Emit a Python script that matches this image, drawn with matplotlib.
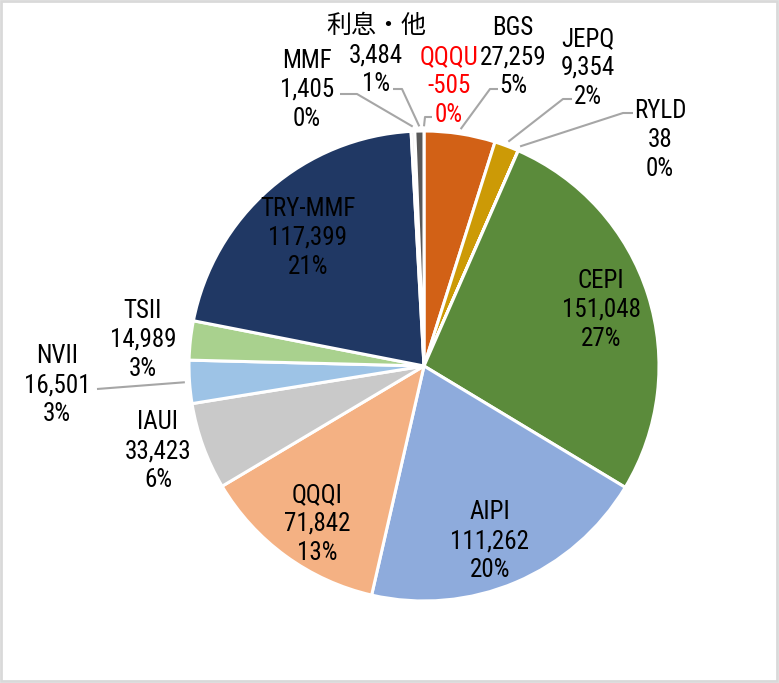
import matplotlib
matplotlib.use("Agg")
import matplotlib.pyplot as plt
from matplotlib.patches import Rectangle
import numpy as np

plt.rcParams['font.family'] = ['Roboto Condensed', 'Noto Sans CJK JP', 'DejaVu Sans']

# 銘柄別の評価額（時計回り、12時の位置から）
names = ['QQQU', 'BGS', 'JEPQ', 'RYLD', 'CEPI', 'AIPI', 'QQQI', 'IAUI',
         'NVII', 'TSII', 'TRY-MMF', 'MMF', '利息・他']
amounts = [-505, 27259, 9354, 38, 151048, 111262, 71842, 33423,
           16501, 14989, 117399, 1405, 3484]
pct_labels = ['0%', '5%', '2%', '0%', '27%', '20%', '13%', '6%',
              '3%', '3%', '21%', '0%', '1%']
colors = ['#E06666', '#D26116', '#CC9A06', '#7F7F7F', '#5B8B3B', '#8EABDC',
          '#F4B183', '#C9C9C9', '#9DC3E6', '#A9D18E', '#203864', '#E7E6E6',
          '#595959']

# ラベル位置（ピクセル座標、中央行）と引き出し線の折れ点
label_pos = {
    'QQQU': (449, 86), 'BGS': (513, 57), 'JEPQ': (588, 68), 'RYLD': (660, 140),
    'CEPI': (601, 310), 'AIPI': (490, 541), 'QQQI': (317, 524),
    'IAUI': (158, 451), 'NVII': (57, 385), 'TSII': (143, 340),
    'TRY-MMF': (308, 238), 'MMF': (307, 90), '利息・他': (376, 55),
}
leaders = {
    'MMF': [(340, 94), (357, 94)],
    '利息・他': [(393, 89), (402, 89)],
    'QQQU': [(432, 117), (425, 117)],
    'BGS': [(498, 89), (490, 89)],
    'JEPQ': [(572, 99), (563, 99)],
    'RYLD': [(633, 113), (623, 113)],
    'NVII': [(97, 389)],
}
line_gap = 29

W, H = 779, 683
cx, cy, R = 424, 366, 235

fig = plt.figure(figsize=(W / 100, H / 100), dpi=100)
ax = fig.add_axes([0, 0, 1, 1])

sizes = [max(a, 0) for a in amounts]
wedges, _ = ax.pie(sizes, colors=colors, startangle=-90, counterclock=True,
                   center=(cx, cy), radius=R,
                   wedgeprops=dict(edgecolor='white', linewidth=2.2))
ax.set_xlim(0, W)
ax.set_ylim(H, 0)
ax.axis('off')

for name, amt, pct, w in zip(names, amounts, pct_labels, wedges):
    x, y = label_pos[name]
    color = 'red' if amt < 0 else 'black'
    for k, line in enumerate([name, f"{amt:,}", pct]):
        ax.text(x, y + (k - 1) * line_gap, line, ha='center', va='center',
                fontsize=18, color=color)
    if name in leaders:
        mid = np.deg2rad((w.theta1 + w.theta2) / 2)
        ax_pt = (cx + R * 1.02 * np.cos(mid), cy + R * 1.02 * np.sin(mid))
        pts = leaders[name] + [ax_pt]
        xs, ys = zip(*pts)
        ax.plot(xs, ys, color='#A6A6A6', linewidth=1.5, solid_capstyle='butt')

# 外枠
ax.add_patch(Rectangle((1, 1), W - 3, H - 3, fill=False, edgecolor='#D9D9D9',
                       linewidth=2, clip_on=False))

fig.savefig('out.png', dpi=100)
